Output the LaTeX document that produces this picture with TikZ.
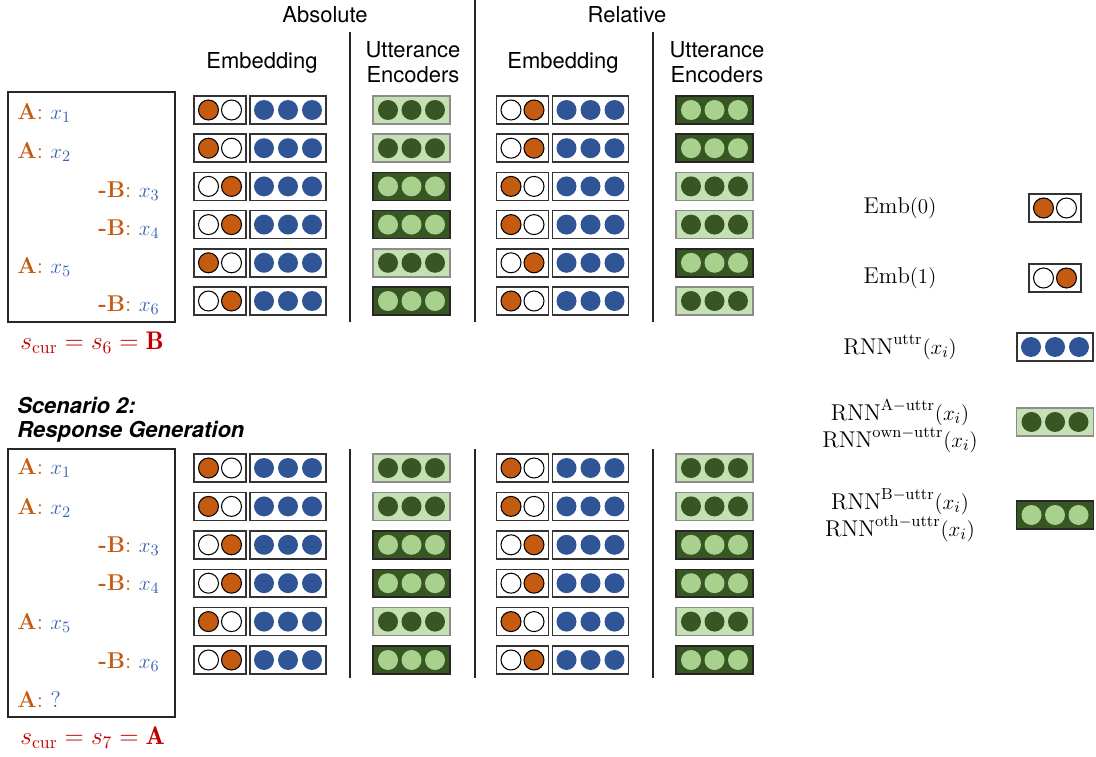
\documentclass[tikz,border=0pt]{standalone}
\usepackage{fontspec}
\setsansfont{TeX Gyre Heros}
\usetikzlibrary{positioning}

\definecolor{embor}{HTML}{C55A11}
\definecolor{uttblue}{HTML}{2F5597}
\definecolor{txtblue}{HTML}{3B64B0}
\definecolor{dkgreen}{HTML}{375623}
\definecolor{ltgreen}{HTML}{A9D18E}
\definecolor{palegreen}{HTML}{C5E0B4}
\definecolor{curred}{HTML}{C00000}

\tikzset{
  vecbox/.style={rectangle, draw=black!80, line width=0.8pt, minimum height=0.56cm, inner sep=0pt},
  bitbox/.style={vecbox, minimum width=1.04cm},
  uttbox/.style={vecbox, minimum width=1.52cm},
  encbox/.style={vecbox, minimum width=1.54cm},
  vecdot/.style={circle, minimum size=0.4cm, inner sep=0pt},
  bitdot/.style={vecdot, draw=black, line width=0.6pt},
  left bit/.code={\ifnum#1=0\relax\pgfkeysalso{fill=embor}\else\pgfkeysalso{fill=white}\fi},
  right bit/.code={\ifnum#1=0\relax\pgfkeysalso{fill=white}\else\pgfkeysalso{fill=embor}\fi},
  enc fill/.code={\ifnum#1=0\relax\pgfkeysalso{fill=palegreen, draw=black!45}\else\pgfkeysalso{fill=dkgreen, draw=black!85}\fi},
  enc dot/.code={\ifnum#1=0\relax\pgfkeysalso{fill=dkgreen}\else\pgfkeysalso{fill=ltgreen}\fi}
}

% one-hot speaker embedding: name, x, y, bit
\newcommand{\bitvec}[4]{%
  \node[bitbox] (#1) at (#2,#3) {};
  \node[bitdot, left bit=#4] (#1l) at ([xshift=-0.23cm]#1.center) {};
  \node[bitdot, right bit=#4] (#1r) at ([xshift=0.23cm]#1.center) {};
}
% utterance vector: name, x, y
\newcommand{\uttvec}[3]{%
  \node[uttbox] (#1) at (#2,#3) {};
  \foreach \k in {-1,0,1} \node[vecdot, fill=uttblue] (#1\k) at ([xshift=\k*0.48cm]#1.center) {};
}
% encoder output: name, x, y, type (0 = light, 1 = dark)
\newcommand{\encvec}[4]{%
  \node[encbox, enc fill=#4] (#1) at (#2,#3) {};
  \foreach \k in {-1,0,1} \node[vecdot, enc dot=#4] (#1\k) at ([xshift=\k*0.47cm]#1.center) {};
}

\begin{document}
\begin{tikzpicture}[x=0.02cm, y=-0.02cm,
    every node/.style={font=\fontsize{12.5}{14.5}\selectfont},
    head/.style={font=\sffamily\fontsize{12.5}{14.5}\selectfont, align=center},
    scen/.style={font=\sffamily\bfseries\itshape\fontsize{12.5}{14.5}\selectfont, anchor=west, inner sep=0pt},
    turn/.style={anchor=west, inner sep=0pt, font=\fontsize{13}{15}\selectfont},
    sep/.style={draw=black!85, line width=0.7pt},
    dialog/.style={draw=black!85, line width=0.8pt},
    legend/.style={align=center, font=\fontsize{13}{15.5}\selectfont}
  ]
  \useasboundingbox (0,0) rectangle (1096,757);

  % headers
  \node[head] (absh) at (325,15) {Absolute};
  \node[head] (relh) at (627,15) {Relative};
  \node[head] (absemb) at (262,63) {Embedding};
  \node[head] (absenc) at (413,62) {Utterance\\Encoders};
  \node[head] (relemb) at (563,63) {Embedding};
  \node[head] (relenc) at (717,62) {Utterance\\Encoders};

  % separators
  \draw[sep] (475,0) -- (475,322);
  \draw[sep] (350,32) -- (350,322);
  \draw[sep] (653,32) -- (653,322);
  \draw[sep] (350,449) -- (350,678);
  \draw[sep] (475,449) -- (475,678);
  \draw[sep] (653,449) -- (653,678);

  % scenario 1
  \draw[dialog] (8,92) rectangle (175,322);
  \node[turn] (t1) at (17,113) {\textcolor{embor}{\textbf{A}:} \textcolor{txtblue}{$x_1$}};
  \node[turn] (t2) at (17,152) {\textcolor{embor}{\textbf{A}:} \textcolor{txtblue}{$x_2$}};
  \node[turn] (t3) at (98,191) {\textcolor{embor}{\textbf{-B}:} \textcolor{txtblue}{$x_3$}};
  \node[turn] (t4) at (98,229) {\textcolor{embor}{\textbf{-B}:} \textcolor{txtblue}{$x_4$}};
  \node[turn] (t5) at (17,267) {\textcolor{embor}{\textbf{A}:} \textcolor{txtblue}{$x_5$}};
  \node[turn] (t6) at (98,305) {\textcolor{embor}{\textbf{-B}:} \textcolor{txtblue}{$x_6$}};
  \node[turn, text=curred, font=\fontsize{14.5}{16}\selectfont] (cur1) at (20,343) {$s_{\mathrm{cur}} = s_6 = \mathbf{B}$};

  \foreach \i/\absb/\absc/\relb/\relc in {1/0/0/1/1, 2/0/0/1/1, 3/1/1/0/0, 4/1/1/0/0, 5/0/0/1/1, 6/1/1/0/0} {
    \pgfmathsetmacro{\y}{110+38.2*(\i-1)}
    \bitvec{tab\i}{220}{\y}{\absb}
    \uttvec{tau\i}{288}{\y}
    \encvec{tac\i}{411.5}{\y}{\absc}
    \bitvec{trb\i}{522.5}{\y}{\relb}
    \uttvec{tru\i}{590.5}{\y}
    \encvec{trc\i}{714.5}{\y}{\relc}
  }

  % scenario 2
  \node[scen] (scen2) at (17,405) {Scenario 2:};
  \node[scen] (scen2b) at (17,432) {Response Generation};
  \draw[dialog] (8,449) rectangle (175,717);
  \node[turn] (b1) at (17,468) {\textcolor{embor}{\textbf{A}:} \textcolor{txtblue}{$x_1$}};
  \node[turn] (b2) at (17,508) {\textcolor{embor}{\textbf{A}:} \textcolor{txtblue}{$x_2$}};
  \node[turn] (b3) at (98,546) {\textcolor{embor}{\textbf{-B}:} \textcolor{txtblue}{$x_3$}};
  \node[turn] (b4) at (98,584) {\textcolor{embor}{\textbf{-B}:} \textcolor{txtblue}{$x_4$}};
  \node[turn] (b5) at (17,623) {\textcolor{embor}{\textbf{A}:} \textcolor{txtblue}{$x_5$}};
  \node[turn] (b6) at (98,662) {\textcolor{embor}{\textbf{-B}:} \textcolor{txtblue}{$x_6$}};
  \node[turn] (b7) at (17,699) {\textcolor{embor}{\textbf{A}:} \textcolor{txtblue}{?}};
  \node[turn, text=curred, font=\fontsize{14.5}{16}\selectfont] (cur2) at (20,738) {$s_{\mathrm{cur}} = s_7 = \mathbf{A}$};

  \foreach \i/\absb/\absc in {1/0/0, 2/0/0, 3/1/1, 4/1/1, 5/0/0, 6/1/1} {
    \pgfmathsetmacro{\y}{468+38.4*(\i-1)}
    \bitvec{bab\i}{220}{\y}{\absb}
    \uttvec{bau\i}{288}{\y}
    \encvec{bac\i}{411.5}{\y}{\absc}
    \bitvec{brb\i}{522.5}{\y}{\absb}
    \uttvec{bru\i}{590.5}{\y}
    \encvec{brc\i}{714.5}{\y}{\absc}
  }

  % legend
  \node[legend] (lemb0) at (900,208) {$\mathrm{Emb}(0)$};
  \bitvec{lbit0}{1055}{208}{0}
  \node[legend] (lemb1) at (900,278) {$\mathrm{Emb}(1)$};
  \bitvec{lbit1}{1055}{278}{1}
  \node[legend] (lrnn) at (900,347) {$\mathrm{RNN}^{\mathrm{uttr}}(x_i)$};
  \uttvec{lutt}{1055}{347}
  \node[legend] (lown) at (900,426) {$\mathrm{RNN}^{\mathrm{A-uttr}}(x_i)$\\$\mathrm{RNN}^{\mathrm{own-uttr}}(x_i)$};
  \encvec{lenc0}{1055}{422}{0}
  \node[legend] (loth) at (900,515) {$\mathrm{RNN}^{\mathrm{B-uttr}}(x_i)$\\$\mathrm{RNN}^{\mathrm{oth-uttr}}(x_i)$};
  \encvec{lenc1}{1055}{515}{1}
\end{tikzpicture}
\end{document}
